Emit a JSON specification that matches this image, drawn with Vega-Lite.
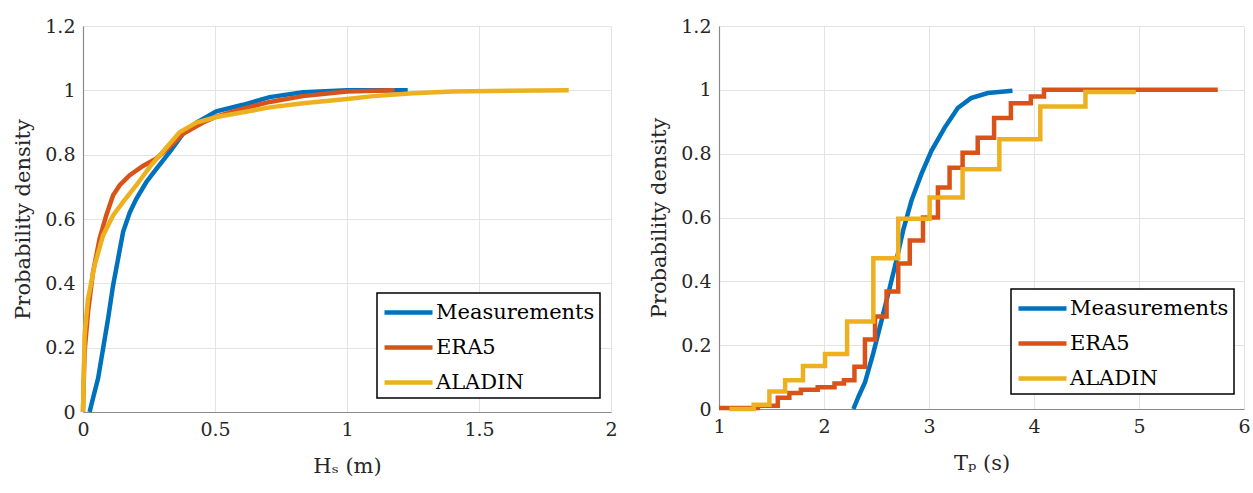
{
  "$schema": "https://vega.github.io/schema/vega-lite/v6.json",
  "padding": {"left": 12, "top": 17, "right": 2, "bottom": 2},
  "background": "white",
  "spacing": 30,
  "config": {
    "view": {"stroke": null},
    "font": "DejaVu Serif",
    "axis": {
      "labelFont": "DejaVu Serif", "titleFont": "DejaVu Serif",
      "labelFontSize": 19, "titleFontSize": 21, "titleFontWeight": "normal",
      "labelColor": "#262626", "titleColor": "#262626",
      "gridColor": "#e3e3e3", "gridWidth": 1,
      "domainColor": "#8a8a8a", "domainWidth": 1.2,
      "ticks": false, "labelPadding": 8,
      "labelFlush": false, "labelOverlap": false
    },
    "axisX": {"titlePadding": 16},
    "axisY": {"titlePadding": 11},
    "legend": {
      "strokeColor": "#000000", "strokeWidth": 1.5, "fillColor": "#ffffff",
      "padding": 5, "cornerRadius": 0
    }
  },
  "datasets": {
    "hs": [
      {"series": "Measurements", "x": 0.025, "y": 0},
      {"series": "Measurements", "x": 0.04, "y": 0.05},
      {"series": "Measurements", "x": 0.057, "y": 0.104},
      {"series": "Measurements", "x": 0.076, "y": 0.197},
      {"series": "Measurements", "x": 0.095, "y": 0.29},
      {"series": "Measurements", "x": 0.114, "y": 0.394},
      {"series": "Measurements", "x": 0.133, "y": 0.477},
      {"series": "Measurements", "x": 0.152, "y": 0.56},
      {"series": "Measurements", "x": 0.177, "y": 0.62},
      {"series": "Measurements", "x": 0.202, "y": 0.663},
      {"series": "Measurements", "x": 0.24, "y": 0.715},
      {"series": "Measurements", "x": 0.278, "y": 0.756},
      {"series": "Measurements", "x": 0.328, "y": 0.808},
      {"series": "Measurements", "x": 0.379, "y": 0.865},
      {"series": "Measurements", "x": 0.43, "y": 0.9},
      {"series": "Measurements", "x": 0.505, "y": 0.935},
      {"series": "Measurements", "x": 0.606, "y": 0.955},
      {"series": "Measurements", "x": 0.707, "y": 0.979},
      {"series": "Measurements", "x": 0.833, "y": 0.994},
      {"series": "Measurements", "x": 1.0, "y": 1.0},
      {"series": "Measurements", "x": 1.23, "y": 1.0},
      {"series": "ERA5", "x": 0, "y": 0},
      {"series": "ERA5", "x": 0.003, "y": 0.1},
      {"series": "ERA5", "x": 0.006, "y": 0.187},
      {"series": "ERA5", "x": 0.019, "y": 0.31},
      {"series": "ERA5", "x": 0.038, "y": 0.435},
      {"series": "ERA5", "x": 0.063, "y": 0.539},
      {"series": "ERA5", "x": 0.088, "y": 0.611},
      {"series": "ERA5", "x": 0.114, "y": 0.674},
      {"series": "ERA5", "x": 0.139, "y": 0.705},
      {"series": "ERA5", "x": 0.177, "y": 0.736},
      {"series": "ERA5", "x": 0.227, "y": 0.765},
      {"series": "ERA5", "x": 0.278, "y": 0.788},
      {"series": "ERA5", "x": 0.328, "y": 0.824},
      {"series": "ERA5", "x": 0.379, "y": 0.865},
      {"series": "ERA5", "x": 0.455, "y": 0.9},
      {"series": "ERA5", "x": 0.505, "y": 0.918},
      {"series": "ERA5", "x": 0.606, "y": 0.943},
      {"series": "ERA5", "x": 0.707, "y": 0.964},
      {"series": "ERA5", "x": 0.833, "y": 0.982},
      {"series": "ERA5", "x": 1.0, "y": 0.996},
      {"series": "ERA5", "x": 1.18, "y": 1.0},
      {"series": "ALADIN", "x": 0, "y": 0},
      {"series": "ALADIN", "x": 0.003, "y": 0.12},
      {"series": "ALADIN", "x": 0.006, "y": 0.238},
      {"series": "ALADIN", "x": 0.019, "y": 0.352},
      {"series": "ALADIN", "x": 0.044, "y": 0.456},
      {"series": "ALADIN", "x": 0.076, "y": 0.549},
      {"series": "ALADIN", "x": 0.114, "y": 0.611},
      {"series": "ALADIN", "x": 0.152, "y": 0.653},
      {"series": "ALADIN", "x": 0.202, "y": 0.705},
      {"series": "ALADIN", "x": 0.253, "y": 0.762},
      {"series": "ALADIN", "x": 0.303, "y": 0.81},
      {"series": "ALADIN", "x": 0.366, "y": 0.87},
      {"series": "ALADIN", "x": 0.43, "y": 0.9},
      {"series": "ALADIN", "x": 0.505, "y": 0.917},
      {"series": "ALADIN", "x": 0.606, "y": 0.932},
      {"series": "ALADIN", "x": 0.707, "y": 0.947},
      {"series": "ALADIN", "x": 0.833, "y": 0.96},
      {"series": "ALADIN", "x": 1.0, "y": 0.973},
      {"series": "ALADIN", "x": 1.1, "y": 0.982},
      {"series": "ALADIN", "x": 1.25, "y": 0.991},
      {"series": "ALADIN", "x": 1.4, "y": 0.996},
      {"series": "ALADIN", "x": 1.55, "y": 0.998},
      {"series": "ALADIN", "x": 1.84, "y": 1.0}
    ],
    "tp": [
      {"series": "Measurements", "x": 2.28, "y": 0},
      {"series": "Measurements", "x": 2.33, "y": 0.04},
      {"series": "Measurements", "x": 2.39, "y": 0.083},
      {"series": "Measurements", "x": 2.47, "y": 0.176},
      {"series": "Measurements", "x": 2.55, "y": 0.28},
      {"series": "Measurements", "x": 2.628, "y": 0.383},
      {"series": "Measurements", "x": 2.69, "y": 0.466},
      {"series": "Measurements", "x": 2.754, "y": 0.56},
      {"series": "Measurements", "x": 2.833, "y": 0.653},
      {"series": "Measurements", "x": 2.927, "y": 0.736},
      {"series": "Measurements", "x": 3.022, "y": 0.808},
      {"series": "Measurements", "x": 3.148, "y": 0.881},
      {"series": "Measurements", "x": 3.274, "y": 0.943},
      {"series": "Measurements", "x": 3.4, "y": 0.974},
      {"series": "Measurements", "x": 3.56, "y": 0.99},
      {"series": "Measurements", "x": 3.795, "y": 0.997},
      {"series": "ERA5", "x": 1.0, "y": 0.003},
      {"series": "ERA5", "x": 1.37, "y": 0.01},
      {"series": "ERA5", "x": 1.56, "y": 0.035},
      {"series": "ERA5", "x": 1.67, "y": 0.05},
      {"series": "ERA5", "x": 1.78, "y": 0.06},
      {"series": "ERA5", "x": 1.94, "y": 0.068},
      {"series": "ERA5", "x": 2.1, "y": 0.08},
      {"series": "ERA5", "x": 2.19, "y": 0.09},
      {"series": "ERA5", "x": 2.29, "y": 0.132},
      {"series": "ERA5", "x": 2.39, "y": 0.218},
      {"series": "ERA5", "x": 2.486, "y": 0.29},
      {"series": "ERA5", "x": 2.596, "y": 0.368},
      {"series": "ERA5", "x": 2.707, "y": 0.456},
      {"series": "ERA5", "x": 2.817, "y": 0.528},
      {"series": "ERA5", "x": 2.943, "y": 0.6},
      {"series": "ERA5", "x": 3.085, "y": 0.694},
      {"series": "ERA5", "x": 3.196, "y": 0.756},
      {"series": "ERA5", "x": 3.32, "y": 0.803},
      {"series": "ERA5", "x": 3.464, "y": 0.85},
      {"series": "ERA5", "x": 3.62, "y": 0.912},
      {"series": "ERA5", "x": 3.78, "y": 0.958},
      {"series": "ERA5", "x": 3.97, "y": 0.979},
      {"series": "ERA5", "x": 4.095, "y": 1.0},
      {"series": "ERA5", "x": 5.75, "y": 1.0},
      {"series": "ALADIN", "x": 1.1, "y": 0},
      {"series": "ALADIN", "x": 1.33, "y": 0.013},
      {"series": "ALADIN", "x": 1.48, "y": 0.055},
      {"series": "ALADIN", "x": 1.63, "y": 0.09},
      {"series": "ALADIN", "x": 1.8, "y": 0.135},
      {"series": "ALADIN", "x": 2.01, "y": 0.172},
      {"series": "ALADIN", "x": 2.22, "y": 0.274},
      {"series": "ALADIN", "x": 2.47, "y": 0.472},
      {"series": "ALADIN", "x": 2.707, "y": 0.596},
      {"series": "ALADIN", "x": 3.006, "y": 0.663},
      {"series": "ALADIN", "x": 3.32, "y": 0.751},
      {"series": "ALADIN", "x": 3.67, "y": 0.845},
      {"series": "ALADIN", "x": 4.06, "y": 0.948},
      {"series": "ALADIN", "x": 4.49, "y": 0.993},
      {"series": "ALADIN", "x": 4.97, "y": 0.993}
    ]
  },
  "resolve": {"legend": {"color": "independent"}},
  "hconcat": [
    {
      "width": 528,
      "height": 386,
      "data": {"name": "hs"},
      "encoding": {
        "x": {"field": "x", "type": "quantitative",
          "scale": {"domain": [0, 2], "nice": false, "zero": false},
          "axis": {"values": [0, 0.5, 1, 1.5, 2], "format": "~g", "title": "Hₛ (m)"}},
        "y": {"field": "y", "type": "quantitative",
          "scale": {"domain": [0, 1.2], "nice": false},
          "axis": {"values": [0, 0.2, 0.4, 0.6, 0.8, 1, 1.2], "format": "~g", "title": "Probability density"}},
        "color": {"field": "series", "type": "nominal",
          "scale": {"domain": ["Measurements", "ERA5", "ALADIN"], "range": ["#0072BD", "#D95319", "#EDB120"]},
          "legend": {"orient": "none", "legendX": 294, "legendY": 267, "title": null,
            "symbolType": "M-1,0H3", "symbolSize": 576, "symbolStrokeWidth": 4.5,
            "labelFontSize": 21, "labelFont": "DejaVu Serif", "labelColor": "#000000",
            "labelOffset": 25, "rowPadding": 10}}
      },
      "layer": [
        {"transform": [{"filter": "datum.series === 'Measurements'"}],
         "mark": {"type": "line", "strokeWidth": 4.5, "interpolate": "linear"}},
        {"transform": [{"filter": "datum.series === 'ERA5'"}],
         "mark": {"type": "line", "strokeWidth": 4.5, "interpolate": "linear"}},
        {"transform": [{"filter": "datum.series === 'ALADIN'"}],
         "mark": {"type": "line", "strokeWidth": 4.5, "interpolate": "linear"}}
      ]
    },
    {
      "width": 525,
      "height": 383,
      "data": {"name": "tp"},
      "encoding": {
        "x": {"field": "x", "type": "quantitative",
          "scale": {"domain": [1, 6], "nice": false, "zero": false},
          "axis": {"values": [1, 2, 3, 4, 5, 6], "format": "~g", "title": "Tₚ (s)"}},
        "y": {"field": "y", "type": "quantitative",
          "scale": {"domain": [0, 1.2], "nice": false},
          "axis": {"values": [0, 0.2, 0.4, 0.6, 0.8, 1, 1.2], "format": "~g", "title": "Probability density"}},
        "color": {"field": "series", "type": "nominal",
          "scale": {"domain": ["Measurements", "ERA5", "ALADIN"], "range": ["#0072BD", "#D95319", "#EDB120"]},
          "legend": {"orient": "none", "legendX": 292, "legendY": 263, "title": null,
            "symbolType": "M-1,0H3", "symbolSize": 576, "symbolStrokeWidth": 4.5,
            "labelFontSize": 21, "labelFont": "DejaVu Serif", "labelColor": "#000000",
            "labelOffset": 25, "rowPadding": 10}}
      },
      "layer": [
        {"transform": [{"filter": "datum.series === 'Measurements'"}],
         "mark": {"type": "line", "strokeWidth": 4.5, "interpolate": "linear"}},
        {"transform": [{"filter": "datum.series === 'ERA5'"}],
         "mark": {"type": "line", "strokeWidth": 4.5, "interpolate": "step-after"}},
        {"transform": [{"filter": "datum.series === 'ALADIN'"}],
         "mark": {"type": "line", "strokeWidth": 4.5, "interpolate": "step-after"}}
      ]
    }
  ]
}
